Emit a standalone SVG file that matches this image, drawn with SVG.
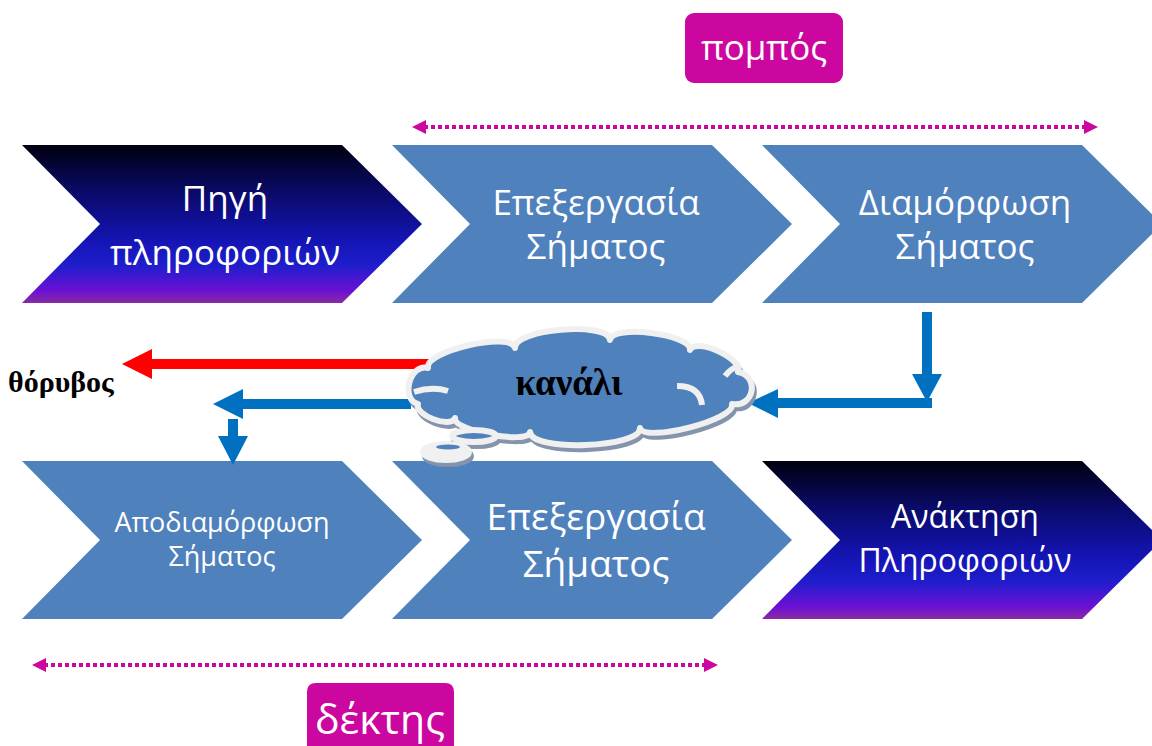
<svg xmlns="http://www.w3.org/2000/svg" width="1152" height="746" viewBox="0 0 1152 746">
<style>
.blue{fill:#4f81bd}
.dark{fill:url(#darkGrad)}
.ct{font-family:"Open Sans","Noto Sans","Liberation Sans",sans-serif;fill:#ffffff;text-anchor:middle}
.lbl{font-family:"Open Sans","Noto Sans","Liberation Sans",sans-serif;fill:#ffffff;text-anchor:middle}
.serif{font-family:"Liberation Serif","DejaVu Serif",serif;font-weight:bold;fill:#000000}
.dots{stroke:#cc079f;stroke-width:4;stroke-dasharray:4 3;fill:none}
.mag{fill:#cc079f}
.bl{fill:#0070c0}
</style>
<defs>
<linearGradient id="darkGrad" x1="0" y1="0" x2="0" y2="1">
<stop offset="0" stop-color="#00000f"/>
<stop offset="0.3" stop-color="#0a0a6a"/>
<stop offset="0.6" stop-color="#1414b4"/>
<stop offset="0.76" stop-color="#1e1ecc"/>
<stop offset="0.92" stop-color="#6a10d4"/>
<stop offset="1" stop-color="#8a2aa4"/>
</linearGradient>
</defs>

<g id="node-pompos">
<rect x="685" y="13" width="158" height="70" rx="9" class="mag"/>
<text x="764" y="60" class="lbl" font-size="35">πομπός</text>
</g>

<g id="node-dektis">
<path d="M307,692 Q307,683 316,683 L445,683 Q454,683 454,692 L454,746 L307,746 Z" class="mag"/>
<text x="380" y="734" class="lbl" font-size="41">δέκτης</text>
</g>

<g id="node-pigi">
<path d="M22,145 L342,145 L422,224 L342,303 L22,303 L100,224 Z" class="dark"/>
<text class="ct" font-size="35"><tspan x="225" y="211">Πηγή</tspan><tspan x="225" y="265">πληροφοριών</tspan></text>
</g>

<g id="node-epexergasia1">
<path d="M392,145 L712,145 L792,224 L712,303 L392,303 L470,224 Z" class="blue"/>
<text class="ct" font-size="35"><tspan x="596" y="215">Επεξεργασία</tspan><tspan x="596" y="259">Σήματος</tspan></text>
</g>

<g id="node-diamorfosi">
<path d="M762,145 L1082,145 L1162,224 L1082,303 L762,303 L840,224 Z" class="blue"/>
<text class="ct" font-size="35"><tspan x="965" y="215">Διαμόρφωση</tspan><tspan x="965" y="259">Σήματος</tspan></text>
</g>

<g id="node-apodiamorfosi">
<path d="M22,461 L342,461 L422,540 L342,619 L22,619 L100,540 Z" class="blue"/>
<text class="ct" font-size="27"><tspan x="222" y="532">Αποδιαμόρφωση</tspan><tspan x="222" y="566">Σήματος</tspan></text>
</g>

<g id="node-epexergasia2">
<path d="M392,461 L712,461 L792,540 L712,619 L392,619 L470,540 Z" class="blue"/>
<text class="ct" font-size="37"><tspan x="596" y="530">Επεξεργασία</tspan><tspan x="596" y="577">Σήματος</tspan></text>
</g>

<g id="node-anaktisi">
<path d="M762,461 L1082,461 L1162,540 L1082,619 L762,619 L840,540 Z" class="dark"/>
<text class="ct" font-size="32"><tspan x="965" y="528">Ανάκτηση</tspan><tspan x="965" y="572">Πληροφοριών</tspan></text>
</g>

<g id="connectors">
<line x1="424" y1="127" x2="1086" y2="127" class="dots"/>
<polygon points="412,127 426,120 426,134" class="mag"/>
<polygon points="1098,127 1084,120 1084,134" class="mag"/>
<line x1="44" y1="665" x2="706" y2="665" class="dots"/>
<polygon points="32,665 46,658 46,672" class="mag"/>
<polygon points="718,665 704,658 704,672" class="mag"/>
<rect x="150" y="359" width="292" height="10" fill="#ff0000"/>
<polygon points="122,364 152,349 152,379" fill="#ff0000"/>
<rect x="241" y="399" width="170" height="10" class="bl"/>
<polygon points="213,404 243,389 243,419" class="bl"/>
<rect x="228" y="419" width="10" height="19" class="bl"/>
<polygon points="218,436 248,436 233,465" class="bl"/>
<rect x="922" y="312" width="10" height="64" class="bl"/>
<polygon points="912,374 942,374 927,402" class="bl"/>
<rect x="775" y="398" width="157" height="10" class="bl"/>
<polygon points="748,403 778,389 778,418" class="bl"/>
</g>

<g id="node-kanali">
<g transform="translate(2,4)" fill="#9aa6b8" stroke="#8494ac" stroke-width="6" stroke-linejoin="round">
<path d="M418,404 C400,399 410,363 428,368 C424,351 511,331 515,348 C513,329 608,321 610,340 C612,324 692,334 690,350 C696,337 744,359 738,372 C760,376 754,408 732,404 C736,420 644,443 640,428 C641,448 531,452 530,432 C528,445 453,431 455,418 C451,429 414,415 418,404 Z"/>
<ellipse cx="474" cy="436" rx="22" ry="6"/>
<ellipse cx="446" cy="452" rx="23" ry="8"/>
</g>
<g fill="#4f81bd" stroke="#f0f0f0" stroke-width="6" stroke-linejoin="round">
<path d="M418,404 C400,399 410,363 428,368 C424,351 511,331 515,348 C513,329 608,321 610,340 C612,324 692,334 690,350 C696,337 744,359 738,372 C760,376 754,408 732,404 C736,420 644,443 640,428 C641,448 531,452 530,432 C528,445 453,431 455,418 C451,429 414,415 418,404 Z"/>
<ellipse cx="474" cy="436" rx="22" ry="6"/>
<ellipse cx="446" cy="452" rx="23" ry="8" fill="#f0f0f0"/>
</g>
<ellipse cx="448" cy="447" rx="12" ry="2.5" fill="#4f81bd"/>
<g fill="none" stroke="#f0f0f0" stroke-width="6" stroke-linecap="butt">
<path d="M414,392 Q432,386 448,391"/>
<path d="M677,386 Q700,386 702,405"/>
<path d="M725,376 Q731,368 741,365"/>
</g>
<text x="569" y="395" class="serif" font-size="37" text-anchor="middle">κανάλι</text>
</g>

<g id="label-thoryvos">
<text x="8" y="392" class="serif" font-size="30">θόρυβος</text>
</g>
</svg>
